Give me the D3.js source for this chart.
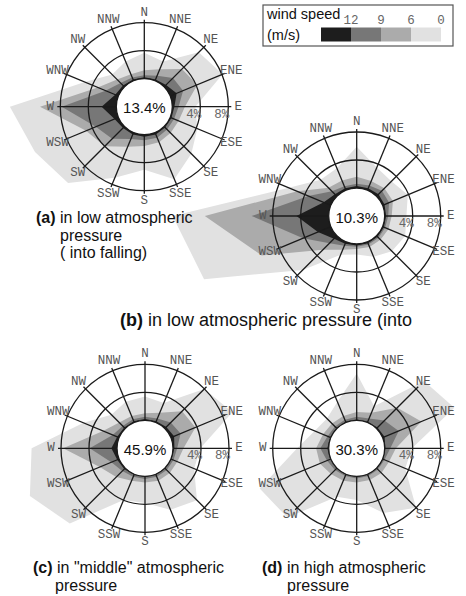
<!DOCTYPE html>
<html>
<head>
<meta charset="utf-8">
<script src="https://cdn.jsdelivr.net/npm/d3@7"></script>
<style>
  html, body { margin: 0; padding: 0; background: #fff; }
  svg { display: block; }
</style>
</head>
<body>
<script>
// Wind direction sectors, clockwise from north
const directions = ["N","NNE","NE","ENE","E","ESE","SE","SSE","S","SSW","SW","WSW","W","WNW","NW","NNW"];

// Speed classes, innermost (fastest) first
const speedClasses = ["over12", "s9to12", "s6to9", "s0to6"];
const speedColors = ["#1d1d1d", "#777777", "#ababab", "#e1e1e1"];
const legendTicks = ["12", "9", "6", "0"];

// Calm percentage shown in the centre of each rose
const calm = [13.4, 10.3, 45.9, 30.3];

// Frequency (%) per direction and speed class
// (a) low pressure, falling
const a_over12 = [0.2,0.2,0.4,1.0,0.3,0.2,0.2,0.3,0.3,0.3,0.3,0.6,2.1,0.5,0.3,0.2];
const a_s9to12 = [0.3,0.6,1.4,1.0,0.6,0.4,0.4,0.5,0.5,0.7,2.2,2.9,5.7,1.5,0.5,0.3];
const a_s6to9  = [0.7,1.0,1.8,2.2,0.9,0.7,0.7,0.7,0.8,1.2,1.5,1.5,3.1,1.2,0.7,0.5];
const a_s0to6  = [2.5,1.2,3.4,3.9,1.5,2.9,4.2,5.7,3.4,4.8,7.4,7.9,4.3,2.0,1.0,2.0];
// (b) low pressure
const b_over12 = [0.3,0.3,0.4,0.3,0.2,0.2,0.2,0.2,0.2,0.3,0.6,2.0,4.6,1.1,0.4,0.3];
const b_s9to12 = [0.3,0.4,0.7,0.7,0.3,0.2,0.2,0.2,0.2,0.3,0.9,2.3,6.4,2.4,0.6,0.3];
const b_s6to9  = [1.0,0.7,0.5,0.6,0.5,0.5,0.4,0.4,0.3,0.6,1.3,6.4,6.7,1.7,0.7,0.9];
const b_s0to6  = [4.3,2.1,1.4,2.3,2.1,2.6,2.3,1.5,0.8,0.8,4.1,8.9,4.6,1.3,1.6,1.9];
// (c) "middle" pressure
const c_over12 = [0.2,0.2,0.3,0.5,0.2,0.1,0.1,0.1,0.1,0.1,0.2,0.3,0.8,0.3,0.2,0.2];
const c_s9to12 = [0.3,0.4,0.9,1.0,0.4,0.3,0.3,0.3,0.3,0.3,0.4,0.9,3.1,0.7,0.3,0.3];
const c_s6to9  = [0.5,0.9,2.3,2.3,0.9,0.6,0.6,0.6,0.5,0.6,1.2,1.8,3.8,1.5,0.7,0.5];
const c_s0to6  = [2.4,1.5,4.5,5.7,2.4,2.6,5.5,4.5,2.9,3.0,9.4,10.8,4.5,3.0,1.6,2.2];
// (d) high pressure
const d_over12 = [0.1,0.1,0.2,0.3,0.1,0.1,0.1,0.1,0.1,0.1,0.1,0.1,0.2,0.1,0.1,0.1];
const d_s9to12 = [0.4,0.5,1.4,2.2,0.7,0.2,0.2,0.2,0.2,0.2,0.3,0.5,1.0,0.4,0.3,0.3];
const d_s6to9  = [0.7,0.9,2.6,3.5,0.8,0.7,0.7,0.6,0.6,0.7,0.8,1.1,0.6,0.7,0.6,0.6];
const d_s0to6  = [5.5,1.0,5.4,5.1,2.3,2.5,7.0,5.1,2.5,2.5,8.8,9.3,2.7,1.3,1.0,2.2];

const ringTicks = [4, 8];

const roses = [
  { cx: 144.3, cy: 106.7, calm: calm[0], series: [a_over12, a_s9to12, a_s6to9, a_s0to6] },
  { cx: 356.7, cy: 216.0, calm: calm[1], series: [b_over12, b_s9to12, b_s6to9, b_s0to6] },
  { cx: 145.0, cy: 448.3, calm: calm[2], series: [c_over12, c_s9to12, c_s6to9, c_s0to6] },
  { cx: 356.7, cy: 448.3, calm: calm[3], series: [d_over12, d_s9to12, d_s6to9, d_s0to6] }
];

const W = 466, H = 596;
const svg = d3.select("body").append("svg").attr("width", W).attr("height", H);

const innerR = 28;
const r = d3.scaleLinear().domain([0, 8]).range([innerR, 84]);
const angle = d3.scaleBand().domain(directions).range([0, 2 * Math.PI]).align(0);
const ang = d => angle(d);

const stack = d3.stack().keys(speedClasses);
const radial = d3.lineRadial().curve(d3.curveLinearClosed);

const monoFont = "'Liberation Mono', 'DejaVu Sans Mono', monospace";
const sansFont = "'Liberation Sans', Arial, sans-serif";

// Filled stacked polygons for every rose (drawn first so the grid sits on top)
const fillLayer = svg.append("g");
roses.forEach(rose => {
  const rows = directions.map((dir, i) => {
    const o = { dir };
    speedClasses.forEach((k, j) => { o[k] = rose.series[j][i]; });
    return o;
  });
  const layers = stack(rows);
  const g = fillLayer.append("g").attr("transform", `translate(${rose.cx},${rose.cy})`);
  // outermost (slowest) class first
  layers.slice().reverse().forEach(layer => {
    const ci = speedClasses.indexOf(layer.key);
    g.append("path")
      .attr("d", radial.angle(d => ang(d.data.dir)).radius(d => r(d[1]))(layer))
      .attr("fill", speedColors[ci]);
  });
});

// Grid, labels and calm circle
roses.forEach(rose => {
  const g = svg.append("g").attr("transform", `translate(${rose.cx},${rose.cy})`);
  g.selectAll("circle.ring").data(ringTicks).join("circle")
    .attr("r", d => r(d)).attr("fill", "none")
    .attr("stroke", "#1a1a1a").attr("stroke-width", 1.3);
  g.selectAll("line.spoke").data(directions).join("line")
    .attr("x1", d => innerR * Math.sin(ang(d)))
    .attr("y1", d => -innerR * Math.cos(ang(d)))
    .attr("x2", d => (r(8) + 3) * Math.sin(ang(d)))
    .attr("y2", d => -(r(8) + 3) * Math.cos(ang(d)))
    .attr("stroke", "#1a1a1a").attr("stroke-width", 1.3);
  const labR = 94;
  g.selectAll("text.dir").data(directions).join("text")
    .attr("x", d => labR * Math.sin(ang(d)))
    .attr("y", d => -labR * Math.cos(ang(d)))
    .attr("text-anchor", "middle").attr("dominant-baseline", "central")
    .attr("font-family", monoFont).attr("font-size", 12.5)
    .attr("fill", "#555").text(d => d);
  g.selectAll("text.tick").data(ringTicks).join("text")
    .attr("x", d => r(d) + 1).attr("y", 11)
    .attr("text-anchor", "end")
    .attr("font-family", monoFont).attr("font-size", 12.5)
    .attr("fill", "#666").text(d => d + "%");
  g.append("circle").attr("r", innerR).attr("fill", "#fff")
    .attr("stroke", "#1a1a1a").attr("stroke-width", 1.3);
  g.append("text").attr("y", 1).attr("text-anchor", "middle")
    .attr("dominant-baseline", "central")
    .attr("font-family", sansFont).attr("font-size", 15).attr("fill", "#111")
    .text(rose.calm.toFixed(1) + "%");
});

// Captions
const captions = [
  { x: 36, y: 223, size: 16, lines: [["(a)", " in low atmospheric"], ["", "pressure", 24], ["", "( into falling)", 24]] },
  { x: 120, y: 326, size: 18, lines: [["(b)", " in low atmospheric pressure (into"]] },
  { x: 33, y: 573, size: 16, lines: [["(c)", " in \"middle\" atmospheric"], ["", "pressure", 22]] },
  { x: 262, y: 573, size: 16, lines: [["(d)", " in high atmospheric"], ["", "pressure", 25]] }
];
captions.forEach(c => {
  c.lines.forEach((ln, i) => {
    const t = svg.append("text")
      .attr("x", c.x + (ln[2] || 0)).attr("y", c.y + i * 17.5)
      .attr("font-family", sansFont).attr("font-size", c.size).attr("fill", "#111");
    if (ln[0]) t.append("tspan").attr("font-weight", "bold").text(ln[0]);
    t.append("tspan").text(ln[1]);
  });
});

// Legend
const lg = svg.append("g");
lg.append("rect").attr("x", 263).attr("y", 5).attr("width", 190).attr("height", 41)
  .attr("fill", "#fff").attr("stroke", "#555").attr("stroke-width", 1.2);
lg.append("text").attr("x", 267).attr("y", 19)
  .attr("font-family", sansFont).attr("font-size", 14.5).attr("fill", "#111").text("wind speed");
lg.append("text").attr("x", 267).attr("y", 40)
  .attr("font-family", sansFont).attr("font-size", 14.5).attr("fill", "#111").text("(m/s)");
const lx = d3.scaleBand().domain(speedClasses).range([321, 441]).padding(0);
lg.selectAll("rect.sw").data(speedClasses).join("rect")
  .attr("x", d => lx(d)).attr("y", 27.5).attr("width", lx.bandwidth()).attr("height", 14)
  .attr("fill", (d, i) => speedColors[i]);
lg.selectAll("text.lt").data(legendTicks).join("text")
  .attr("x", (d, i) => lx(speedClasses[i]) + lx.bandwidth())
  .attr("y", 24).attr("text-anchor", "middle")
  .attr("font-family", monoFont).attr("font-size", 12.5).attr("fill", "#666")
  .text(d => d);
</script>
</body>
</html>
